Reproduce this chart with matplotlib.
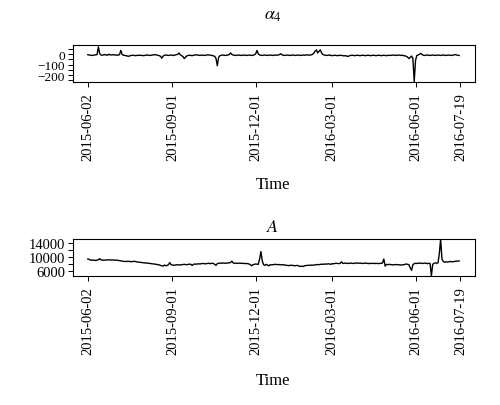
import matplotlib
matplotlib.use("Agg")
import matplotlib.pyplot as plt
import numpy as np

plt.rcParams['font.family'] = 'serif'
plt.rcParams['font.serif'] = ['Liberation Serif', 'DejaVu Serif']
plt.rcParams['mathtext.fontset'] = 'stix'
plt.rcParams['font.size'] = 10

# trading-day index of the labelled dates
tick_idx = [0, 64, 127, 185, 248, 282]
tick_labels = ["2015-06-02", "2015-09-01", "2015-12-01", "2016-03-01", "2016-06-01", "2016-07-19"]

alpha4 = [
    -5, -8, -10, -12, -10, -8, -6, -4, 70, 5, -8, -10, -6, -4, -8, -10, 0, -6, -8, -4,
    -8, -6, -10, -8, -4, 36, -2, -10, -12, -14, -18, -20, -14, -12, -10, -12, -14, -12, -10, -12,
    -10, -12, -14, -12, -10, -8, -10, -12, -10, -8, -6, -4, -8, -10, -14, -20, -38, -18, -10, -8,
    -10, -12, -10, -8, -10, -12, -8, -4, -2, 12, -6, -14, -22, -42, -28, -16, -12, -10, -12, -14,
    -10, -8, -6, -8, -10, -12, -8, -10, -12, -10, -8, -6, -8, -10, -12, -16, -20, -40, -110, -30,
    -14, -10, -8, -10, -12, -10, -8, -4, 12, -2, -8, -10, -12, -10, -8, -10, -12, -10, -8, -10,
    -12, -10, -8, -10, -12, -10, -6, 2, 36, 4, -8, -10, -12, -10, -8, -10, -12, -10, -8, -10,
    -12, -10, -8, -10, -8, -4, 4, -6, -10, -12, -10, -8, -10, -12, -10, -8, -10, -12, -10, -8,
    -10, -12, -10, -8, -10, -8, -6, -8, -10, -6, -2, 10, 30, 40, 12, 28, 40, 10, -4, -8,
    -10, -12, -10, -8, -12, -14, -12, -10, -12, -14, -12, -10, -12, -14, -16, -14, -18, -22, -14, -12,
    -10, -12, -14, -12, -10, -12, -14, -12, -10, -12, -14, -12, -10, -12, -14, -12, -10, -12, -14, -12,
    -10, -12, -14, -12, -10, -12, -14, -12, -10, -12, -10, -8, -10, -12, -10, -8, -10, -12, -10, -14,
    -16, -20, -28, -42, -30, -18, -40, -262, -60, -12, -8, 0, 8, -4, -10, -12, -10, -8, -10, -12,
    -10, -8, -10, -12, -10, -8, -10, -12, -10, -8, -10, -12, -10, -8, -10, -12, -10, -6, -4, -8,
    -10, -12,
]

A = [
    9500, 9400, 9200, 9150, 9200, 9150, 9100, 9200, 9300, 9600, 9250, 9200, 9150, 9200, 9250, 9200, 9300, 9250, 9200, 9250,
    9200, 9150, 9200, 9100, 9050, 9000, 8900, 8850, 8800, 8850, 8800, 8850, 8800, 8750, 8800, 8850, 8800, 8700, 8650, 8600,
    8550, 8500, 8450, 8400, 8350, 8400, 8300, 8250, 8200, 8150, 8100, 8050, 8000, 7900, 7850, 7700, 7600, 7500, 7800, 7600,
    7700, 7900, 8500, 7900, 7800, 7750, 7800, 7850, 7900, 7850, 7800, 7900, 7950, 8000, 7950, 7900, 8000, 8050, 8000, 7700,
    8000, 8100, 8050, 8100, 8150, 8100, 8200, 8250, 8200, 8150, 8200, 8300, 8250, 8200, 8300, 8250, 8000, 7700, 8200, 8300,
    8350, 8300, 8400, 8350, 8300, 8400, 8350, 8450, 8500, 8900, 8400, 8300, 8350, 8250, 8300, 8350, 8300, 8250, 8300, 8200,
    8250, 8200, 8100, 7900, 7600, 7900, 8000, 8100, 8050, 8000, 9500, 11600, 9000, 7900, 7700, 8000, 7800, 7600, 7900, 7850,
    7900, 7950, 8000, 7950, 7900, 7950, 7900, 7850, 7900, 7800, 7750, 7700, 7650, 7700, 7750, 7700, 7650, 7600, 7700, 7650,
    7500, 7400, 7500, 7400, 7600, 7650, 7700, 7750, 7700, 7800, 7750, 7800, 7850, 7900, 7950, 7900, 8000, 8050, 8000, 8100,
    8050, 8100, 8150, 8100, 8000, 8200, 8150, 8250, 8300, 8250, 8200, 8300, 8700, 8250, 8300, 8350, 8300, 8250, 8300, 8350,
    8300, 8250, 8300, 8400, 8350, 8300, 8350, 8300, 8250, 8300, 8350, 8300, 8250, 8200, 8300, 8250, 8300, 8200, 8300, 8250,
    8200, 8300, 8250, 8400, 9500, 7500, 8000, 7900, 8000, 7950, 7900, 7850, 7900, 7950, 7900, 7850, 7900, 7800, 7850, 7900,
    8000, 8100, 8000, 7900, 7000, 6300, 7900, 8200, 8300, 8250, 8300, 8350, 8300, 8250, 8300, 8350, 8300, 8200, 8300, 8250,
    4800, 8000, 8300, 8400, 8350, 8400, 11000, 15100, 9500, 8800, 8600, 8700, 8650, 8700, 8800, 8750, 8700, 8800, 8850, 8900,
    8900, 8950,
]

fig = plt.figure(figsize=(5.0, 4.06), dpi=100)
ax1 = fig.add_axes([0.146, 0.7956, 0.804, 0.0912])
ax2 = fig.add_axes([0.146, 0.318, 0.804, 0.091])

panels = [
    (ax1, alpha4, (-265, 88), [-250, -200, -150, -100, -50, 0, 50],
     {0: "0", -100: "\u2212100", -200: "\u2212200"}, r"$\alpha_4$", 15, 185, 9.5),
    (ax2, A, (4750, 15150), [6000, 8000, 10000, 12000, 14000],
     {6000: "6000", 10000: "10000", 14000: "14000"}, r"$A$", 228, 381, 10.5),
]

for ax, vals, ylim, yt, ylab, title, ty, xy, ysize in panels:
    x = np.arange(len(vals))
    ax.plot(x, vals, color="black", linewidth=1.0)
    ax.set_xlim(-11.2, 293)
    ax.set_ylim(*ylim)
    ax.set_xticks(tick_idx)
    ax.set_xticklabels(tick_labels, rotation=90)
    ax.set_yticks(yt)
    ax.set_yticklabels([ylab.get(v, "") for v in yt])
    ax.tick_params(axis='both', direction='out', length=3.6, width=0.7, pad=3.5)
    ax.tick_params(axis='x', labelsize=10.5)
    ax.tick_params(axis='y', pad=2, labelsize=ysize)
    for s in ax.spines.values():
        s.set_linewidth(0.8)
    fig.text(0.546, 1 - ty / 406, title, ha="center", va="center", fontsize=13)
    fig.text(0.546, 1 - xy / 406, "Time", ha="center", va="center", fontsize=12)

fig.savefig("out.png", dpi=100)
